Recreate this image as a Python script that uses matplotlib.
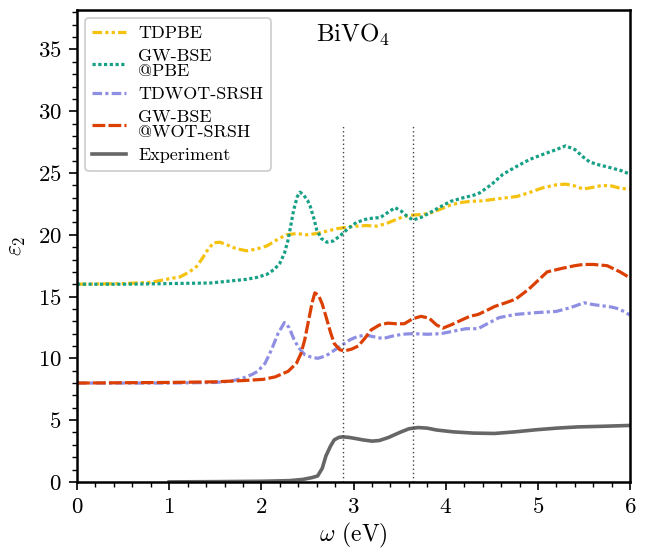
import matplotlib
matplotlib.use("Agg")
import matplotlib.pyplot as plt
from matplotlib.ticker import MultipleLocator

plt.rcParams.update({
    "font.family": "serif",
    "font.serif": ["cmr10", "DejaVu Serif"],
    "mathtext.fontset": "cm",
    "axes.unicode_minus": False,
    "axes.formatter.use_mathtext": True,
})

# ---- data ----
tdpbe_x = [0, 0.5, 0.8, 0.97, 1.12, 1.22, 1.3, 1.36, 1.41, 1.48, 1.55, 1.62, 1.72, 1.84, 1.95, 2.06,
           2.17, 2.27, 2.38, 2.49, 2.6, 2.71, 2.82, 2.92, 3.03, 3.14, 3.25, 3.35, 3.45, 3.55, 3.645,
           3.75, 3.85, 3.95, 4.05, 4.15, 4.26, 4.4, 4.55, 4.77, 4.9, 5.05, 5.2, 5.3, 5.4, 5.49, 5.6,
           5.7, 5.8, 5.9, 6.0]
tdpbe_y = [16.0, 16.05, 16.15, 16.4, 16.6, 17.0, 17.45, 18.1, 18.7, 19.35, 19.4, 19.2, 18.9, 18.7, 18.85, 19.1,
           19.6, 20.0, 20.1, 20.0, 20.1, 20.3, 20.5, 20.6, 20.7, 20.75, 20.7, 20.9, 21.2, 21.5, 21.6,
           21.65, 21.8, 22.1, 22.4, 22.6, 22.7, 22.75, 22.9, 23.1, 23.4, 23.8, 24.05, 24.1, 23.95, 23.7, 23.85,
           24.0, 23.95, 23.75, 23.7]

gwpbe_x = [0, 0.5, 1.0, 1.45, 1.65, 1.84, 1.95, 2.06, 2.14, 2.2, 2.25, 2.29, 2.32, 2.35, 2.39, 2.42,
           2.46, 2.5, 2.53, 2.57, 2.6, 2.65, 2.71, 2.78, 2.85, 2.94, 3.03, 3.15, 3.29, 3.37, 3.45, 3.52,
           3.58, 3.645, 3.73, 3.83, 3.95, 4.05, 4.19, 4.3, 4.37, 4.5, 4.62, 4.76, 4.91, 5.05, 5.2, 5.3,
           5.4, 5.49, 5.56, 5.64, 5.75, 5.9, 6.0]
gwpbe_y = [16.0, 16.0, 16.05, 16.1, 16.25, 16.4, 16.55, 16.8, 17.2, 17.7, 18.5, 19.6, 20.8, 22.0, 23.1, 23.45,
           23.2, 22.8, 22.3, 21.3, 20.4, 19.7, 19.4, 19.5, 19.9, 20.5, 21.0, 21.3, 21.4, 21.8, 22.2, 21.9,
           21.5, 21.2, 21.4, 21.8, 22.3, 22.7, 23.0, 23.2, 23.4, 24.1, 24.9, 25.5, 26.1, 26.5, 26.9, 27.2,
           26.9, 26.3, 25.9, 25.7, 25.5, 25.2, 24.9]

tdwot_x = [0, 1.0, 1.5, 1.67, 1.8, 1.9, 1.96, 2.04, 2.11, 2.18, 2.25, 2.3, 2.35, 2.4, 2.47, 2.54, 2.61,
           2.7, 2.8, 2.88, 2.96, 3.05, 3.15, 3.25, 3.32, 3.42, 3.53, 3.64, 3.8, 3.95, 4.08, 4.22, 4.35,
           4.45, 4.58, 4.75, 4.98, 5.2, 5.35, 5.5, 5.6, 5.7, 5.8, 5.88, 6.0]
tdwot_y = [8.0, 8.0, 8.05, 8.15, 8.4, 8.7, 8.95, 9.6, 10.7, 12.0, 12.9, 12.5, 11.6, 10.9, 10.3, 10.1, 10.0,
           10.2, 10.7, 11.1, 11.5, 11.8, 11.85, 11.7, 11.6, 11.8, 11.95, 12.0, 11.95, 12.0, 12.2, 12.4, 12.4,
           12.8, 13.3, 13.55, 13.7, 13.8, 14.1, 14.5, 14.35, 14.25, 14.15, 14.0, 13.5]

gwwot_x = [0, 1.0, 1.5, 1.8, 2.02, 2.15, 2.29, 2.38, 2.43, 2.47, 2.51, 2.55, 2.58, 2.62, 2.66, 2.7,
           2.75, 2.79, 2.85, 2.9, 2.98, 3.05, 3.12, 3.19, 3.28, 3.37, 3.46, 3.55, 3.64, 3.73, 3.82, 3.9,
           3.97, 4.07, 4.17, 4.26, 4.35, 4.45, 4.53, 4.65, 4.76, 4.9, 5.0, 5.1, 5.27, 5.4, 5.49, 5.6,
           5.75, 5.89, 6.0]
gwwot_y = [8.0, 8.05, 8.1, 8.2, 8.3, 8.5, 8.95, 9.6, 10.4, 11.5, 13.0, 14.5, 15.3, 15.1, 14.4, 13.4,
           12.1, 11.2, 10.7, 10.6, 10.75, 11.0, 11.6, 12.3, 12.7, 12.85, 12.8, 12.8, 13.2, 13.4, 13.25, 12.7,
           12.45, 12.75, 13.1, 13.4, 13.55, 13.9, 14.2, 14.5, 14.8, 15.6, 16.3, 17.0, 17.3, 17.5, 17.6, 17.6,
           17.5, 17.0, 16.5]

exp_x = [1.0, 1.5, 2.0, 2.3, 2.45, 2.55, 2.61, 2.66, 2.7, 2.75, 2.79, 2.84, 2.88, 2.95, 3.03, 3.1, 3.2,
         3.28, 3.38, 3.5, 3.6, 3.7, 3.8, 3.9, 4.08, 4.3, 4.53, 4.75, 4.98, 5.2, 5.43, 5.7, 6.0]
exp_y = [0.0, 0.02, 0.05, 0.1, 0.2, 0.35, 0.48, 1.1, 2.1, 2.9, 3.4, 3.6, 3.65, 3.6, 3.5, 3.4, 3.3,
         3.35, 3.6, 4.0, 4.3, 4.4, 4.35, 4.2, 4.05, 3.95, 3.92, 4.05, 4.22, 4.35, 4.45, 4.5, 4.57]

peak_lines = [2.885, 3.645]
labels = ["TDPBE", "GW-BSE\n@PBE", "TDWOT-SRSH", "GW-BSE\n@WOT-SRSH", "Experiment"]

# ---- figure ----
fig = plt.figure(figsize=(6.47, 5.52), dpi=100)
ax = fig.add_axes([0.119, 0.127, 0.855, 0.855])

lw = 2.3
ax.plot(tdpbe_x, tdpbe_y, color="#f5c20f", lw=lw, ls=(0, (3, 1, 1, 1, 1, 1)), label=labels[0])
ax.plot(gwpbe_x, gwpbe_y, color="#16a085", lw=lw, ls=(0, (1, 0.8)), label=labels[1])
ax.plot(tdwot_x, tdwot_y, color="#8e8ee3", lw=lw, ls=(0, (3, 1, 1, 1)), label=labels[2])
ax.plot(gwwot_x, gwwot_y, color="#dc3f02", lw=lw, ls=(0, (4, 1)), label=labels[3])
ax.plot(exp_x, exp_y, color="#666666", lw=2.6, ls="-", label=labels[4])

ax.vlines(peak_lines, 0, 28.8, colors="#444444", linestyles=(0, (1, 2)), lw=1.0)

ax.set_xlim(0, 6)
ax.set_ylim(0, 38.2)
ax.xaxis.set_major_locator(MultipleLocator(1))
ax.xaxis.set_minor_locator(MultipleLocator(0.2))
ax.yaxis.set_major_locator(MultipleLocator(5))
ax.yaxis.set_minor_locator(MultipleLocator(1))
ax.tick_params(which="major", length=6, width=1.2, labelsize=16.5, direction="out", pad=5)
ax.tick_params(which="minor", length=3.5, width=1.0, direction="out")
for s in ax.spines.values():
    s.set_linewidth(1.8)

ax.set_xlabel(r"$\omega$ (eV)", fontsize=17, labelpad=3)
ax.set_ylabel(r"$\varepsilon_2$", fontsize=17, labelpad=7)

ax.text(3.0, 36.2, r"BiVO$_4$", fontsize=18, ha="center", va="center")

leg = ax.legend(loc="upper left", fontsize=13, handlelength=1.85, handletextpad=0.7,
                labelspacing=0.43, borderpad=0.4, fancybox=True, framealpha=1.0,
                borderaxespad=0.45)
for t in leg.get_texts():
    t.set_linespacing(0.95)
leg.get_frame().set_edgecolor("#cccccc")
leg.get_frame().set_linewidth(1.2)

fig.savefig("out.png", dpi=100)
